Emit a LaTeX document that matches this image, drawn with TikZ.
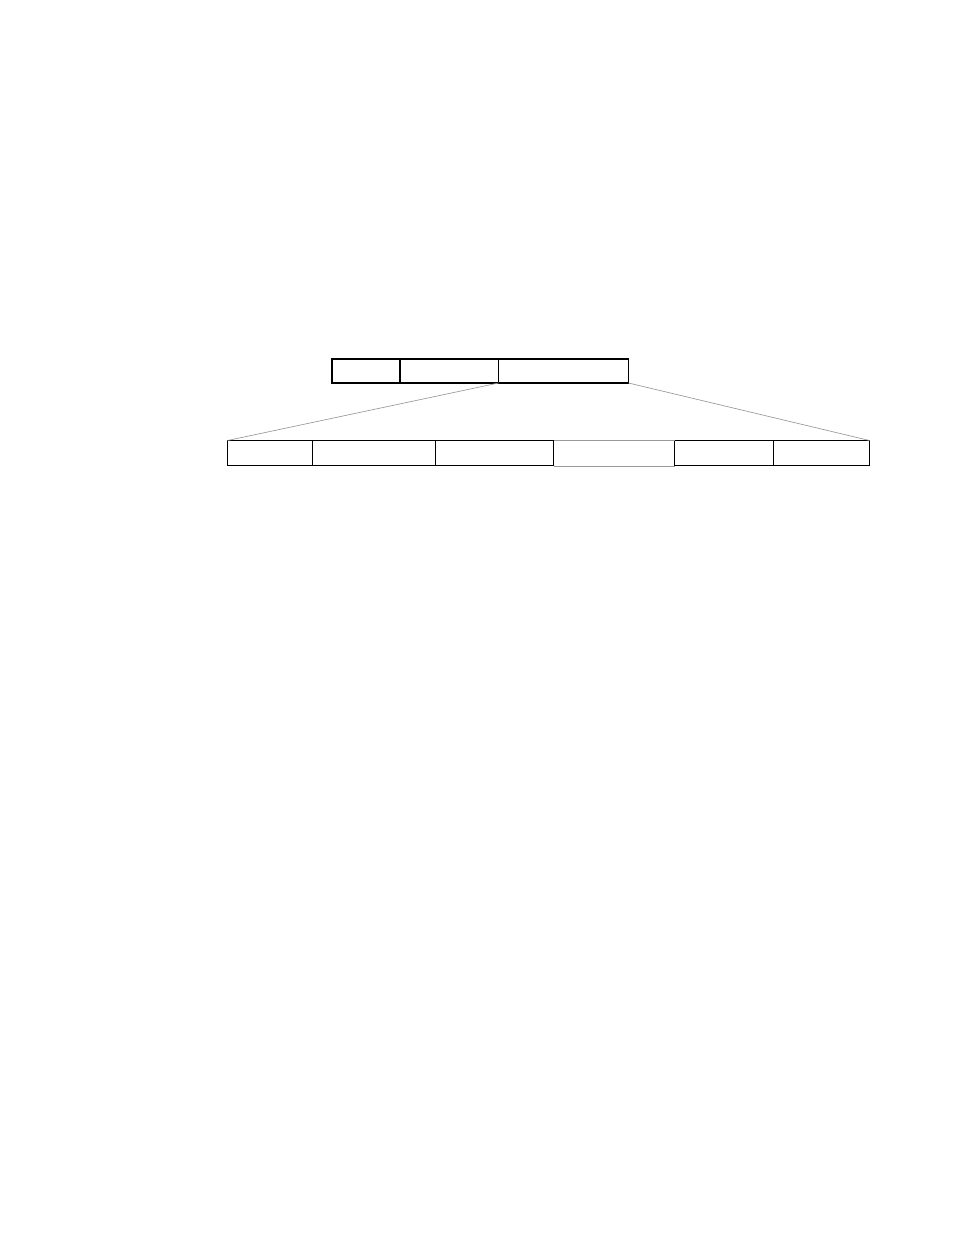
\documentclass[tikz,border=0pt]{standalone}
\begin{document}
\begin{tikzpicture}[x=0.75pt,y=-0.75pt,
  cell/.style={draw=black,line width=0.8pt,anchor=north west,inner sep=0pt,outer sep=0pt,minimum height=#1},
  cell/.default=18.75pt,
  thin gray/.style={draw=gray!80,line width=0.5pt}]
\useasboundingbox (0,0) rectangle (954,1235);
% top row (y 359-383)
\node[cell=18pt,minimum width=51pt] (t1) at (332,359) {};
\node[cell=18pt,minimum width=73.5pt] (t2) at (400.5,359) {};
\node[cell=18pt,minimum width=97.5pt] (t3) at (498.5,359) {};
% bottom row (y 440-466)
\node[cell=19pt,minimum width=63.75pt] (b1) at (227.5,440.5) {};
\node[cell=19pt,minimum width=92.25pt] (b2) at (312.5,440.5) {};
\node[cell=19pt,minimum width=88.5pt] (b3) at (435.5,440.5) {};
\node[anchor=north west,inner sep=0pt,outer sep=0pt,minimum width=90.75pt,minimum height=19pt] (b4) at (553.5,440.5) {};
\node[cell=19pt,minimum width=74.25pt] (b5) at (674.5,440.5) {};
\node[cell=19pt,minimum width=72pt] (b6) at (773.5,440.5) {};
\draw[thin gray] (b4.north west) -- (b4.north east);
\draw[thin gray] (b4.south west) -- (b4.south east);
% connectors
\draw[thin gray] (t3.south west) -- (b1.north west);
\draw[thin gray] (t3.south east) -- (b6.north east);
\end{tikzpicture}
\end{document}
